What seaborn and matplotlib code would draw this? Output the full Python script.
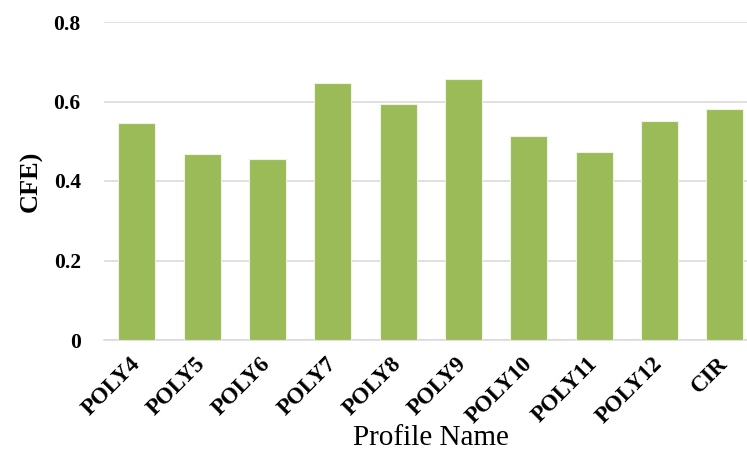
import matplotlib
matplotlib.use("Agg")
import matplotlib.pyplot as plt
import seaborn as sns
import pandas as pd

categories = ["POLY4", "POLY5", "POLY6", "POLY7", "POLY8", "POLY9",
              "POLY10", "POLY11", "POLY12", "CIR"]
cfe_values = [0.546, 0.469, 0.455, 0.646, 0.593, 0.657, 0.513, 0.472, 0.552, 0.580]
y_ticks = [0, 0.2, 0.4, 0.6, 0.8]
y_tick_labels = ["0", "0.2", "0.4", "0.6", "0.8"]

sns.set_theme(style="white")
plt.rcParams["font.family"] = ["Liberation Serif", "DejaVu Serif"]
plt.rcParams["text.color"] = "black"
plt.rcParams["axes.labelcolor"] = "black"
plt.rcParams["xtick.color"] = "black"
plt.rcParams["ytick.color"] = "black"

df = pd.DataFrame({"Profile": categories, "CFE": cfe_values})

W, H = 747, 450
fig = plt.figure(figsize=(W / 100, H / 100), dpi=100)
ax = fig.add_axes([104.3 / W, 110 / H, 653 / W, 318 / H])

sns.barplot(data=df, x="Profile", y="CFE", color="#9BBB59", saturation=1,
            width=0.567, edgecolor="#EEF3E2", linewidth=0.8, ax=ax, zorder=3)

ax.set_xlim(-0.5, len(categories) - 0.5)
ax.set_ylim(0, 0.8)
ax.set_yticks(y_ticks)
ax.set_yticklabels(y_tick_labels, fontsize=15.5, fontweight="bold")
ax.set_xticks(range(len(categories)))
ax.set_xticklabels(categories, fontsize=16.5, fontweight="bold",
                   rotation=45, ha="right", va="center", rotation_mode="anchor")

ax.grid(axis="y", color="#D9D9D9", linewidth=1.1, zorder=0)
ax.grid(axis="x", visible=False)
for s in ["top", "right", "left"]:
    ax.spines[s].set_visible(False)
ax.spines["bottom"].set_color("#D9D9D9")
ax.spines["bottom"].set_linewidth(1.1)
ax.tick_params(axis="y", length=0, pad=17)
ax.tick_params(axis="x", length=0, pad=15)

ax.set_xlabel("Profile Name", fontsize=21)
ax.xaxis.set_label_coords(0.5, -0.268)
ax.set_ylabel("CFE)", fontsize=19, fontweight="bold")
ax.yaxis.set_label_coords(-0.095, 0.5)

fig.savefig("out.png", dpi=100)
